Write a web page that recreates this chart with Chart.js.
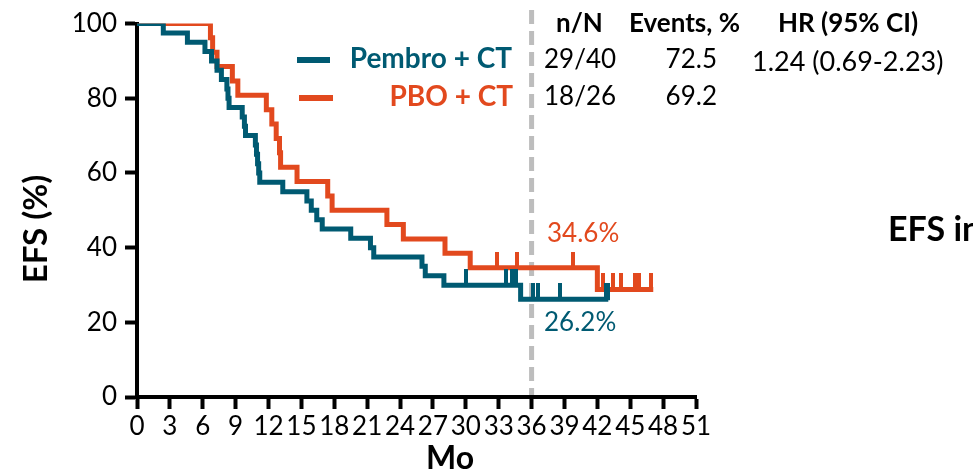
<!DOCTYPE html>
<html>
<head>
<meta charset="utf-8">
<script src="https://cdn.jsdelivr.net/npm/chart.js@4.4.1/dist/chart.umd.min.js"></script>
<style>
  html, body { margin: 0; padding: 0; background: #ffffff; }
  #wrap { width: 973px; height: 473px; position: relative; overflow: hidden; }
  canvas { display: block; }
</style>
</head>
<body>
<div id="wrap"><canvas id="km" width="973" height="473"></canvas></div>
<script>
// Kaplan-Meier event-free survival, months vs percent
const pembroTimes = [0, 2.4, 4.6, 6.2, 6.8, 7.3, 7.7, 8.2, 8.3, 8.4, 9.6, 9.8, 9.9, 10.8, 10.9, 11.0, 11.1, 11.2, 13.3, 15.5, 15.9, 16.4, 16.9, 19.5, 21.3, 21.6, 26.0, 26.3, 28.0, 35.0, 43.0];
const pembroSurv  = [100, 97.5, 95, 92.5, 90, 87.5, 85, 82.5, 80, 77.5, 75, 72.5, 70, 67.5, 65, 62.5, 60, 57.5, 55, 52.5, 50, 47.5, 45, 42.5, 40, 37.5, 35, 32.5, 29.9, 26.2, 26.2];

const pboTimes = [0, 6.7, 6.9, 7.3, 8.7, 9.2, 11.8, 12.3, 12.7, 13.0, 13.1, 14.6, 17.4, 17.8, 22.8, 24.3, 28.1, 30.4, 42.0, 47.1];
const pboSurv  = [100, 96.2, 92.3, 88.5, 84.6, 80.8, 76.9, 73.1, 69.2, 65.4, 61.5, 57.7, 53.8, 50.0, 46.2, 42.3, 38.5, 34.6, 28.8, 28.8];

// censored observations
const pembroCensorTimes = [30.0, 33.7, 34.2, 34.6, 36.1, 36.6, 38.6, 42.8, 43.0];
const pembroCensorSurv  = [29.9, 29.9, 29.9, 29.9, 26.2, 26.2, 26.2, 26.2, 26.2];
const pboCensorTimes = [32.8, 34.7, 39.8, 42.5, 43.4, 44.2, 45.4, 45.8, 46.9];
const pboCensorSurv  = [34.6, 34.6, 34.6, 28.8, 28.8, 28.8, 28.8, 28.8, 28.8];

const monthTicks = [0, 3, 6, 9, 12, 15, 18, 21, 24, 27, 30, 33, 36, 39, 42, 45, 48, 51];
const efsTicks = [0, 20, 40, 60, 80, 100];
const landmarkMonth = 36;

const seriesNames = ['Pembro + CT', 'PBO + CT'];
const tableHeader = ['n/N', 'Events, %', 'HR (95% CI)'];
const tableRows = [['29/40', '72.5', '1.24 (0.69-2.23)'], ['18/26', '69.2', '']];
const landmarkLabels = ['26.2%', '34.6%'];
const xTitle = 'Mo';
const yTitle = 'EFS (%)';
const sideTitle = 'EFS in';

const TEAL = '#005a72';
const ORANGE = '#e2491e';
const FONT = 'Lato, "Open Sans", sans-serif';

const toXY = (xs, ys) => xs.map((x, i) => ({ x: x, y: ys[i] }));

// small upward tick used as the censor mark
function censorMark(color) {
  const c = document.createElement('canvas');
  c.width = 4; c.height = 32;
  const g = c.getContext('2d');
  g.fillStyle = color;
  g.fillRect(0, 0, 4, 17);
  return c;
}

const overlay = {
  id: 'overlay',
  beforeDatasetsDraw(chart) {
    const { ctx, scales: { x, y } } = chart;
    const px = x.getPixelForValue(landmarkMonth);
    ctx.save();
    ctx.strokeStyle = '#bdbdbd';
    ctx.lineWidth = 5;
    ctx.setLineDash([14, 7]);
    ctx.beginPath();
    ctx.moveTo(px, 10);
    ctx.lineTo(px, y.getPixelForValue(0) - 2);
    ctx.stroke();
    ctx.restore();
  },
  afterDraw(chart) {
    const { ctx } = chart;
    ctx.save();
    ctx.textBaseline = 'middle';

    // axis titles
    ctx.fillStyle = '#000';
    ctx.font = 'bold 32px ' + FONT;
    ctx.textAlign = 'center';
    ctx.fillText(xTitle, 450, 459);
    ctx.save();
    ctx.translate(36, 229);
    ctx.rotate(-Math.PI / 2);
    ctx.font = 'bold 33px ' + FONT;
    ctx.fillText(yTitle, 0, 0);
    ctx.restore();

    // legend
    ctx.lineWidth = 6;
    ctx.strokeStyle = TEAL;
    ctx.beginPath(); ctx.moveTo(297, 60); ctx.lineTo(330, 60); ctx.stroke();
    ctx.strokeStyle = ORANGE;
    ctx.beginPath(); ctx.moveTo(299, 98); ctx.lineTo(333, 98); ctx.stroke();
    ctx.font = 'bold 28px ' + FONT;
    ctx.textAlign = 'right';
    ctx.fillStyle = TEAL;
    ctx.fillText(seriesNames[0], 512, 59);
    ctx.fillStyle = ORANGE;
    ctx.fillText(seriesNames[1], 513, 97);

    // summary table
    ctx.fillStyle = '#000';
    ctx.font = 'bold 26px ' + FONT;
    ctx.textAlign = 'left';
    ctx.fillText(tableHeader[0], 556, 24);
    ctx.fillText(tableHeader[1], 629, 24);
    ctx.fillText(tableHeader[2], 778, 24);
    ctx.font = '26px ' + FONT;
    const rowY = [60, 97];
    tableRows.forEach((r, i) => {
      ctx.textAlign = 'left';
      ctx.fillText(r[0], 544, rowY[i]);
      ctx.textAlign = 'right';
      ctx.fillText(r[1], 717, rowY[i]);
      ctx.textAlign = 'left';
      if (r[2]) {
        ctx.font = '27px ' + FONT;
        ctx.fillText(r[2], 752, rowY[i] + 2);
        ctx.font = '26px ' + FONT;
      }
    });

    // landmark values at 36 months
    ctx.textAlign = 'left';
    ctx.fillStyle = ORANGE;
    ctx.fillText(landmarkLabels[1], 547, 234);
    ctx.fillStyle = TEAL;
    ctx.fillText(landmarkLabels[0], 544, 323);

    // side heading, running past the right edge
    ctx.fillStyle = '#000';
    ctx.font = 'bold 34px ' + FONT;
    ctx.fillText(sideTitle, 888, 230);
    ctx.restore();
  }
};

function build() {
  new Chart(document.getElementById('km'), {
    type: 'line',
    data: {
      datasets: [
        { label: seriesNames[0], data: toXY(pembroTimes, pembroSurv), borderColor: TEAL, borderWidth: 5, stepped: 'before', pointRadius: 0, fill: false, order: 1 },
        { label: seriesNames[0] + ' censored', type: 'scatter', data: toXY(pembroCensorTimes, pembroCensorSurv), pointStyle: censorMark(TEAL), pointRadius: 8, order: 0 },
        { label: seriesNames[1], data: toXY(pboTimes, pboSurv), borderColor: ORANGE, borderWidth: 5, stepped: 'before', pointRadius: 0, fill: false, order: 3 },
        { label: seriesNames[1] + ' censored', type: 'scatter', data: toXY(pboCensorTimes, pboCensorSurv), pointStyle: censorMark(ORANGE), pointRadius: 8, order: 2 }
      ]
    },
    options: {
      responsive: false,
      animation: false,
      events: [],
      layout: { padding: { top: 22, right: 277, bottom: 0, left: 0 } },
      plugins: { legend: { display: false }, tooltip: { enabled: false } },
      elements: { line: { borderCapStyle: 'butt', borderJoinStyle: 'miter' } },
      scales: {
        x: {
          type: 'linear', min: 0, max: 51,
          afterBuildTicks: s => { s.ticks = monthTicks.map(v => ({ value: v })); },
          afterFit: s => { s.height = 76; },
          border: { display: true, color: '#000', width: 4 },
          grid: { display: true, drawOnChartArea: false, drawTicks: true, tickLength: 12, tickWidth: 4, tickColor: '#000' },
          ticks: { autoSkip: false, maxRotation: 0, minRotation: 0, padding: 2, color: '#000', font: { family: FONT, size: 26 } }
        },
        y: {
          type: 'linear', min: 0, max: 100,
          afterBuildTicks: s => { s.ticks = efsTicks.map(v => ({ value: v })); },
          afterFit: s => { s.width = 137; },
          border: { display: true, color: '#000', width: 4 },
          grid: { display: true, drawOnChartArea: false, drawTicks: true, tickLength: 12, tickWidth: 4, tickColor: '#000' },
          ticks: { padding: 8, color: '#000', font: { family: FONT, size: 26 } }
        }
      }
    },
    plugins: [overlay]
  });
}

Promise.all([
  document.fonts.load('26px Lato'),
  document.fonts.load('bold 26px Lato')
]).then(build, build);
</script>
</body>
</html>
